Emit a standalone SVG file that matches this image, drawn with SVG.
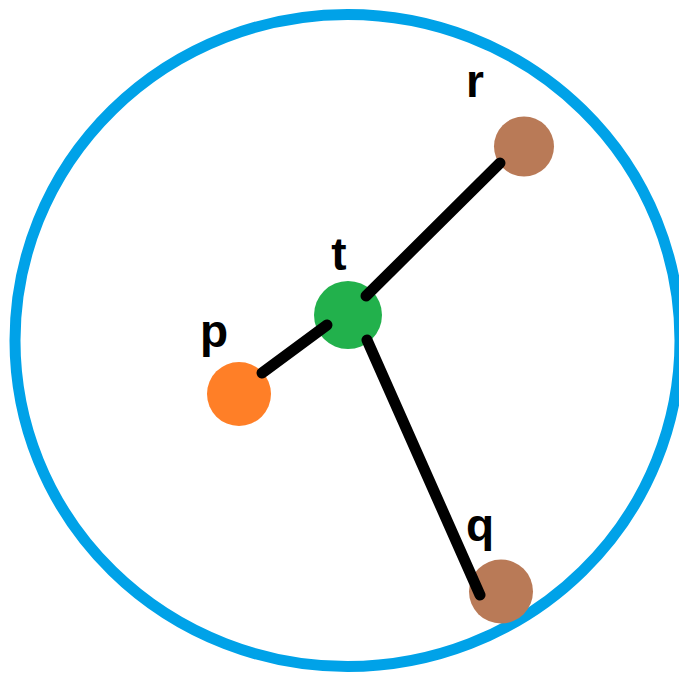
<svg xmlns="http://www.w3.org/2000/svg" width="679" height="675" viewBox="0 0 679 675">
<style>
.edge{stroke:#000;stroke-width:11;stroke-linecap:round;fill:none}
.lbl{font-family:"Liberation Sans",Arial,sans-serif;font-weight:bold;font-size:46px;fill:#000;text-anchor:middle}
</style>
<rect width="679" height="675" fill="#fff"/>
<ellipse id="boundary" cx="347.5" cy="340.5" rx="332.5" ry="326" fill="none" stroke="#00a2e8" stroke-width="11"/>
<g id="node-t"><circle cx="348" cy="315" r="34" fill="#22b14c"/><text class="lbl" x="339" y="270">t</text></g>
<g id="node-r"><circle cx="524" cy="146.5" r="30" fill="#b97a57"/><text class="lbl" x="475" y="97">r</text></g>
<g id="node-p"><circle cx="239" cy="394" r="32" fill="#ff7f27"/><text class="lbl" x="214" y="347">p</text></g>
<g id="node-q"><circle cx="501" cy="591.5" r="32" fill="#b97a57"/><text class="lbl" x="480" y="541">q</text></g>
<g id="connectors">
<line class="edge" x1="366" y1="296" x2="500" y2="163"/>
<line class="edge" x1="327" y1="325" x2="262" y2="373"/>
<line class="edge" x1="367" y1="340" x2="480" y2="595"/>
</g>
</svg>
